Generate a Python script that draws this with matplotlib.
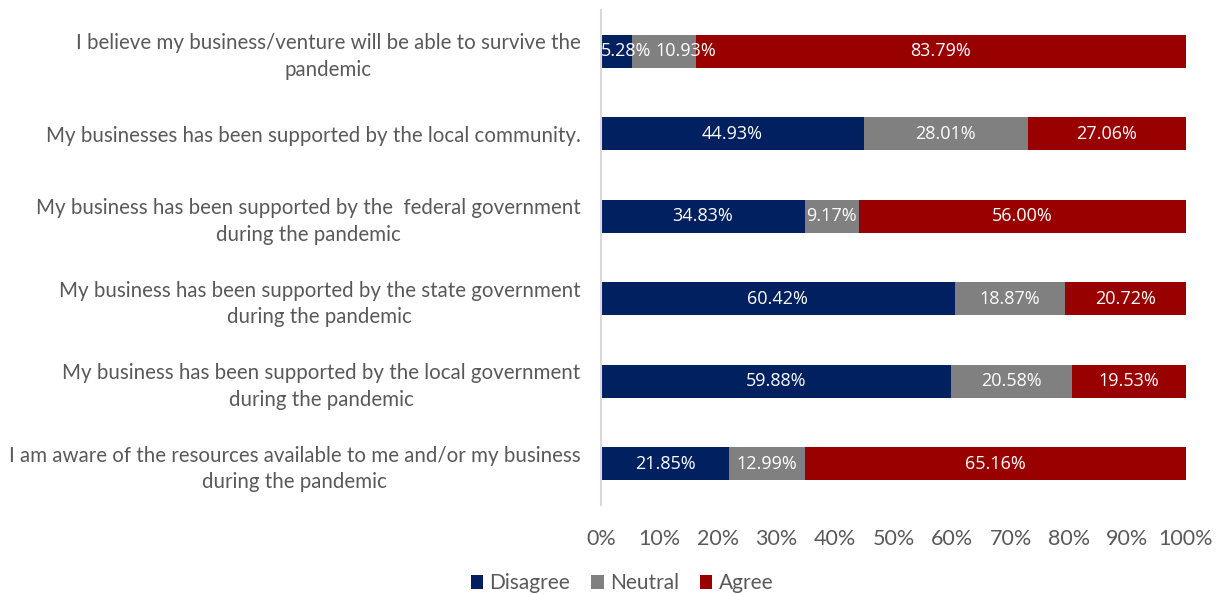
import matplotlib.pyplot as plt
import numpy as np

statements = [
    "I believe my business/venture will be able to survive the\npandemic",
    "My businesses has been supported by the local community.",
    "My business has been supported by the  federal government\nduring the pandemic",
    "My business has been supported by the state government\nduring the pandemic",
    "My business has been supported by the local government\nduring the pandemic",
    "I am aware of the resources available to me and/or my business\nduring the pandemic",
]
disagree = [5.28, 44.93, 34.83, 60.42, 59.88, 21.85]
neutral = [10.93, 28.01, 9.17, 18.87, 20.58, 12.99]
agree = [83.79, 27.06, 56.00, 20.72, 19.53, 65.16]

series = [("Disagree", disagree, "#002060"),
          ("Neutral", neutral, "#808080"),
          ("Agree", agree, "#990000")]

plt.rcParams['font.family'] = ['Lato', 'DejaVu Sans']

fig = plt.figure(figsize=(12.22, 5.94), dpi=100)
ax = fig.add_axes([0.492, 0.150, 0.4785, 0.833])
ax.set_xlim(0, 100)

y = np.arange(len(statements))
left = np.zeros(len(statements))
row_texts = [[] for _ in statements]
for name, vals, col in series:
    vals = np.array(vals)
    ax.barh(y, vals, left=left, height=0.4, color=col, label=name)
    for i, (l, v) in enumerate(zip(left, vals)):
        t = ax.text(l + v / 2, i, f"{v:.2f}%", ha='center', va='center',
                    color='white', fontsize=13, family=['Open Sans', 'DejaVu Sans'])
        row_texts[i].append(t)
    left += vals

# labels that don't fit their segment get nudged right, one after another
renderer = fig.canvas.get_renderer()
px_per_unit = ax.get_window_extent().width / 100
gap = 0.7
for texts in row_texts:
    prev_end = 0.0
    for t in texts:
        w = t.get_window_extent(renderer).width / px_per_unit
        x = t.get_position()[0]
        start = max(x - w / 2, prev_end + gap if prev_end > 0 else 0)
        if start > x - w / 2:
            t.set_ha('left')
            t.set_x(start)
        prev_end = start + w

ax.set_ylim(len(statements) - 0.5, -0.5)
ax.set_xticks(np.arange(0, 101, 10))
ax.set_xticklabels([f"{t}%" for t in range(0, 101, 10)], fontsize=15.5, color='#595959')
ax.set_yticks(y)
ax.set_yticklabels(statements, fontsize=14.8, color='#595959',
                   multialignment='center', linespacing=1.4)
ax.tick_params(axis='both', length=0)
ax.tick_params(axis='y', pad=15)
ax.tick_params(axis='x', pad=17)
for s in ['top', 'right', 'bottom']:
    ax.spines[s].set_visible(False)
ax.spines['left'].set_color('#d9d9d9')
ax.spines['left'].set_linewidth(1.5)

ax.legend(loc='center', bbox_to_anchor=(0.509, 0.018), bbox_transform=fig.transFigure,
          ncol=3, frameon=False, fontsize=15, handlelength=0.6, handleheight=0.6,
          handletextpad=0.3, columnspacing=1.0, labelcolor='#595959')

fig.savefig("out.png", dpi=100)
